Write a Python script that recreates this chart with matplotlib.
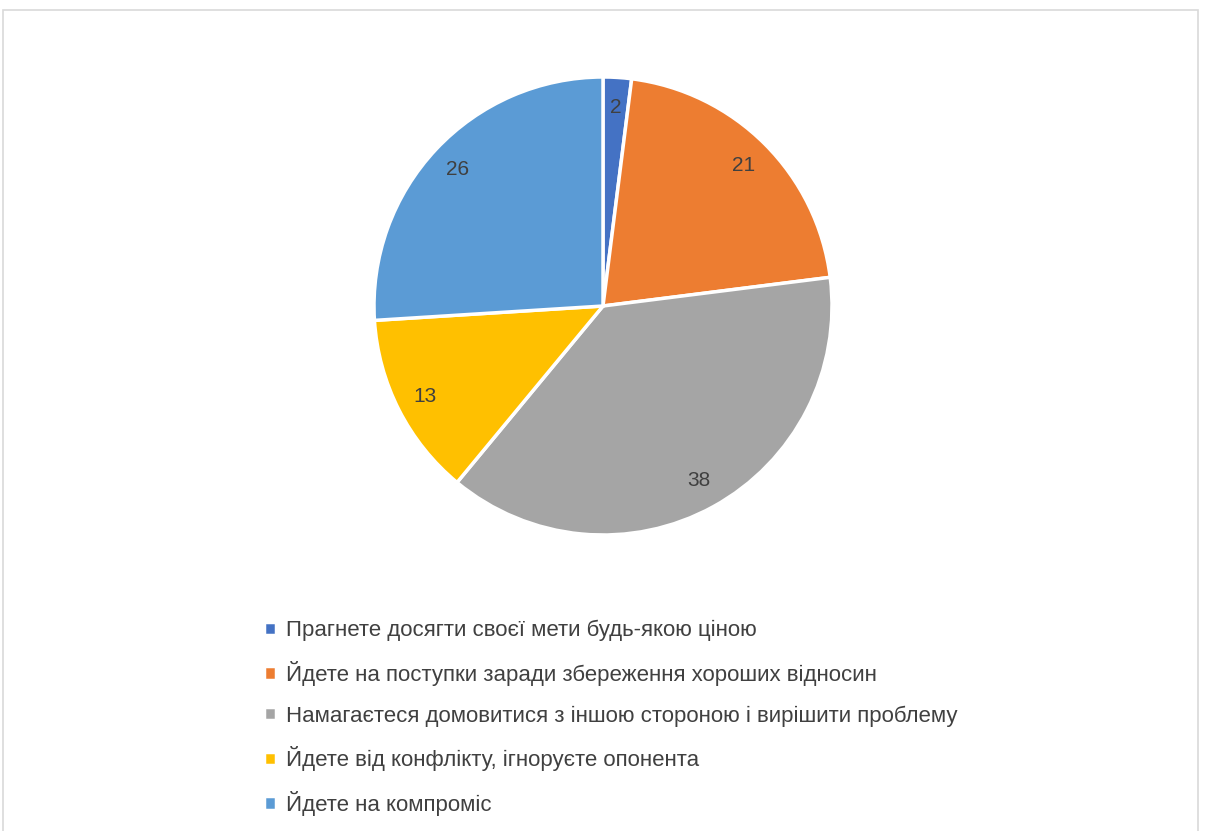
import matplotlib.pyplot as plt
from matplotlib.patches import Rectangle

plt.rcParams['font.family'] = ['Liberation Sans', 'DejaVu Sans']

categories = [
    "Прагнете досягти своєї мети будь-якою ціною",
    "Йдете на поступки заради збереження хороших відносин",
    "Намагаєтеся домовитися з іншою стороною і вирішити проблему",
    "Йдете від конфлікту, ігноруєте опонента",
    "Йдете на компроміс",
]
values = [2, 21, 38, 13, 26]
colors = ["#4472C4", "#ED7D31", "#A5A5A5", "#FFC000", "#5B9BD5"]

W, H = 1205, 831
fig = plt.figure(figsize=(W / 100, H / 100), dpi=100)

# chart frame (bottom edge runs off the image)
fig.patches.append(Rectangle((3 / W, -0.05), 1195 / W, 1.05 - 10 / H,
                             transform=fig.transFigure, fill=False,
                             edgecolor="#D9D9D9", linewidth=1.2))

cx, cy, r = 603, 306, 229
ax = fig.add_axes([(cx - r) / W, 1 - (cy + r) / H, 2 * r / W, 2 * r / H])
wedges, texts = ax.pie(values, colors=colors, startangle=90, counterclock=False,
                       labels=[str(v) for v in values], labeldistance=0.87,
                       wedgeprops=dict(edgecolor="white", linewidth=2.5),
                       textprops=dict(fontsize=15, color="#404040"))
for t in texts:
    t.set_horizontalalignment("center")
    t.set_verticalalignment("center")
ax.set_xlim(-1, 1)
ax.set_ylim(-1, 1)
ax.set_aspect("equal")

leg = fig.legend(wedges, categories, loc="upper left",
                 bbox_to_anchor=(255 / W, 1 - 611 / H), frameon=False,
                 fontsize=16, labelcolor="#404040", handlelength=0.55,
                 handleheight=0.55, handletextpad=0.45, labelspacing=0.88,
                 borderaxespad=0)

fig.savefig("out.png", dpi=100)
